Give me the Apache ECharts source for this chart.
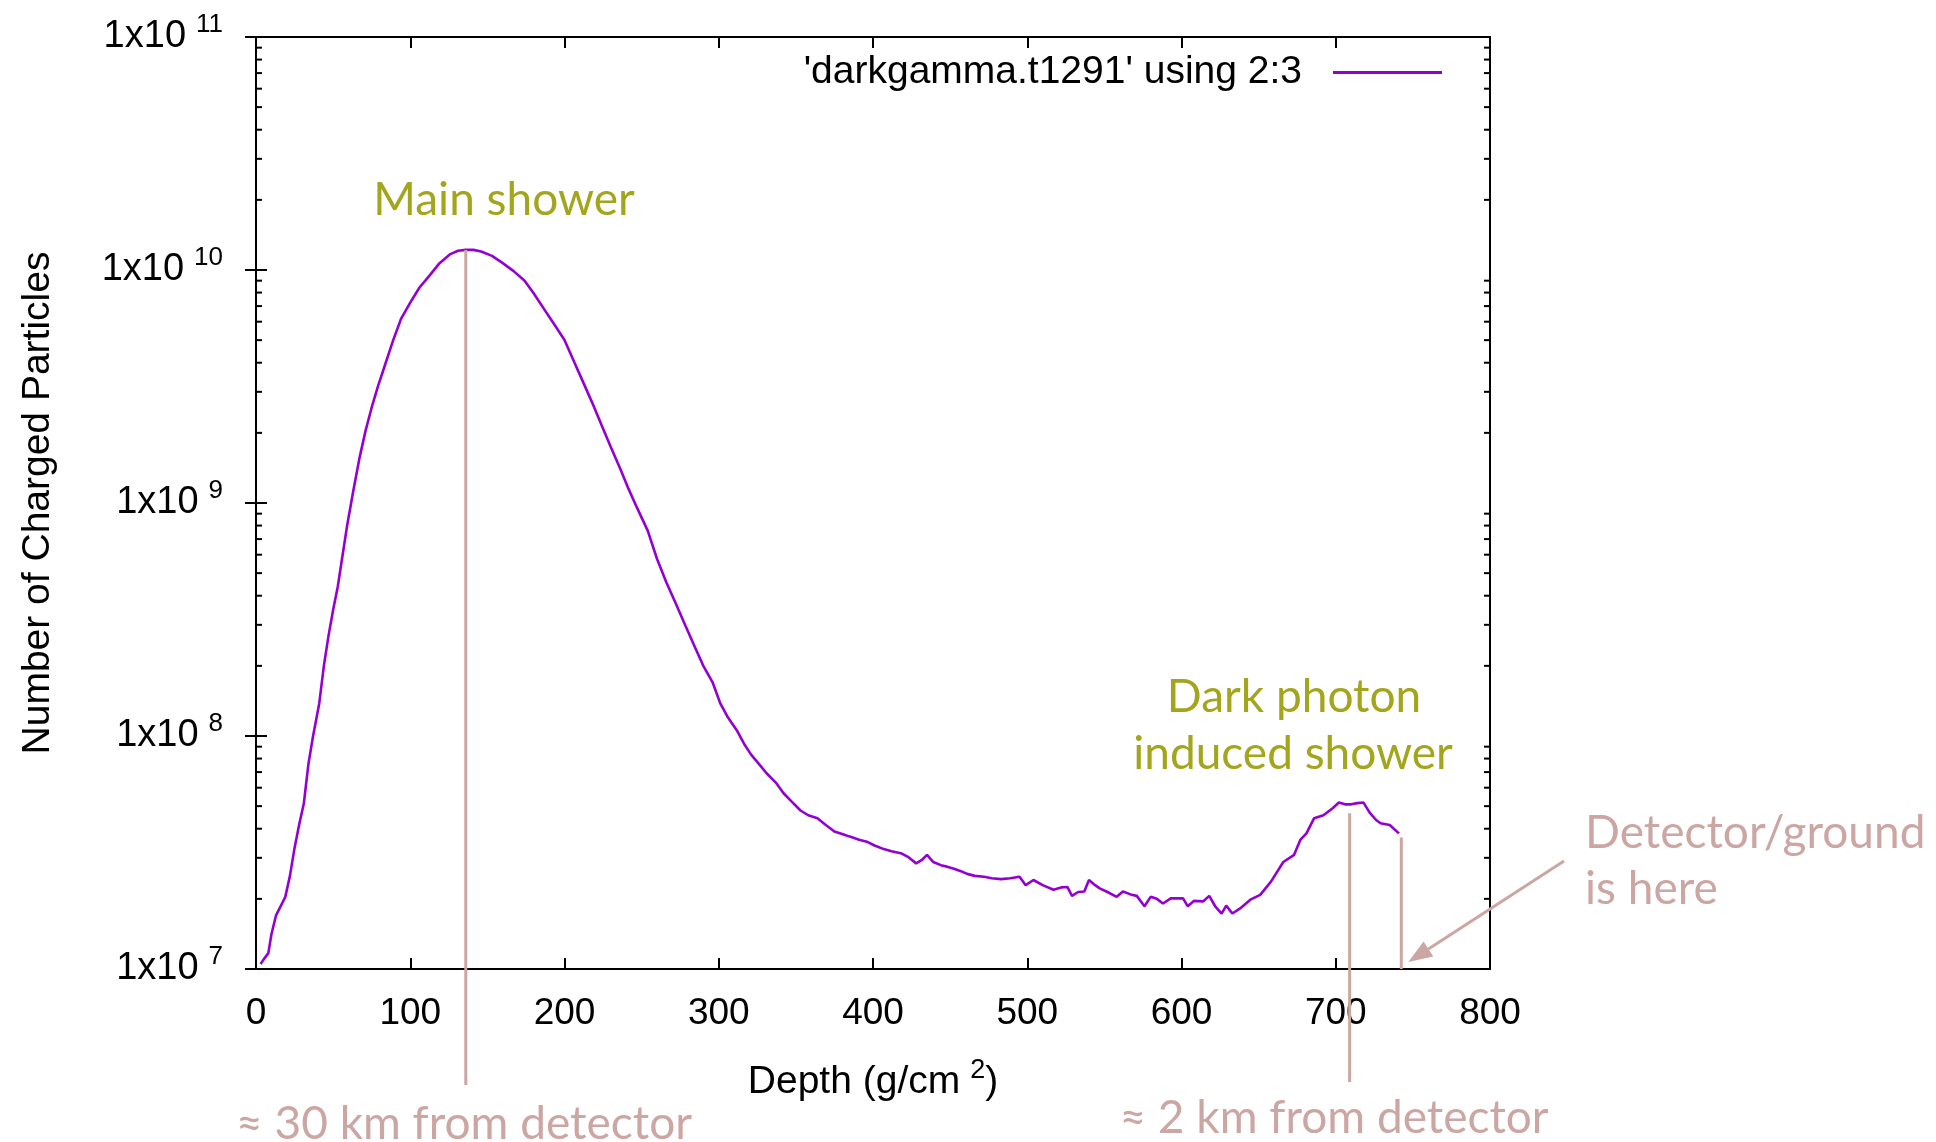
<!DOCTYPE html>
<html>
<head>
<meta charset="utf-8">
<title>darkgamma.t1291</title>
<script src="https://cdn.jsdelivr.net/npm/echarts@6/dist/echarts.min.js"></script>
<style>
  html, body { margin: 0; padding: 0; background: #fff; }
  #chart { width: 1936px; height: 1142px; }
</style>
</head>
<body>
<div id="chart"></div>
<script>
// depth (g/cm2)
var depth = [
  3, 5, 8, 10, 13, 16, 19, 22, 25, 28,
  31, 34, 37, 41, 44, 47, 50, 53, 56, 59,
  63, 67, 71, 75, 79, 84, 89, 94, 100, 106,
  113, 119, 126, 131, 136, 141, 146, 153, 160, 167,
  174, 180, 187, 193, 200, 206, 212, 218, 224, 230,
  236, 241, 247, 254, 260, 266, 272, 278, 284, 290,
  296, 301, 306, 312, 317, 321, 326, 331, 337, 342,
  347, 353, 358, 364, 369, 375, 380, 385, 391, 396,
  401, 407, 412, 418, 423, 428, 432, 435, 439, 444,
  448, 452, 457, 461, 466, 472, 477, 483, 489, 495,
  499, 504, 510, 517, 522, 526, 529, 533, 537, 540,
  544, 547, 552, 558, 562, 567, 571, 576, 580, 584,
  588, 593, 598, 601, 604, 608, 614, 618, 622, 626,
  629, 633, 638, 645, 651, 658, 666, 673, 677, 681,
  686, 692, 698, 702, 706, 710, 714, 718, 722, 726,
  729, 735, 738, 741
];
// number of charged particles at each depth
var particles = [
  1.05e7, 1.10e7, 1.17e7, 1.41e7, 1.70e7, 1.86e7, 2.04e7, 2.51e7, 3.31e7, 4.17e7,
  5.13e7, 7.59e7, 1.00e8, 1.38e8, 2.00e8, 2.69e8, 3.47e8, 4.37e8, 5.89e8, 7.94e8,
  1.12e9, 1.55e9, 2.04e9, 2.57e9, 3.16e9, 3.98e9, 5.01e9, 6.17e9, 7.24e9, 8.41e9,
  9.55e9, 1.07e10, 1.17e10, 1.21e10, 1.22e10, 1.22e10, 1.20e10, 1.15e10, 1.07e10, 9.89e9,
  9.02e9, 7.94e9, 6.76e9, 5.89e9, 5.01e9, 4.07e9, 3.31e9, 2.69e9, 2.16e9, 1.74e9,
  1.41e9, 1.17e9, 9.55e8, 7.59e8, 5.75e8, 4.57e8, 3.72e8, 3.02e8, 2.45e8, 2.00e8,
  1.70e8, 1.38e8, 1.20e8, 1.05e8, 9.12e7, 8.32e7, 7.59e7, 6.92e7, 6.31e7, 5.68e7,
  5.25e7, 4.79e7, 4.57e7, 4.44e7, 4.17e7, 3.89e7, 3.80e7, 3.70e7, 3.59e7, 3.52e7,
  3.39e7, 3.27e7, 3.20e7, 3.14e7, 3.02e7, 2.84e7, 2.95e7, 3.09e7, 2.88e7, 2.79e7,
  2.75e7, 2.70e7, 2.63e7, 2.56e7, 2.51e7, 2.49e7, 2.45e7, 2.43e7, 2.45e7, 2.49e7,
  2.29e7, 2.41e7, 2.29e7, 2.19e7, 2.24e7, 2.25e7, 2.06e7, 2.14e7, 2.15e7, 2.41e7,
  2.29e7, 2.22e7, 2.14e7, 2.04e7, 2.15e7, 2.09e7, 2.06e7, 1.86e7, 2.04e7, 2.00e7,
  1.91e7, 2.01e7, 2.01e7, 2.01e7, 1.86e7, 1.96e7, 1.95e7, 2.06e7, 1.85e7, 1.73e7,
  1.87e7, 1.73e7, 1.82e7, 1.99e7, 2.08e7, 2.37e7, 2.88e7, 3.09e7, 3.58e7, 3.82e7,
  4.44e7, 4.57e7, 4.90e7, 5.18e7, 5.09e7, 5.09e7, 5.15e7, 5.18e7, 4.69e7, 4.37e7,
  4.22e7, 4.15e7, 3.98e7, 3.82e7
];

var seriesName = "'darkgamma.t1291' using 2:3";

// log axis minor ticks (2..9 in each decade)
var decades = [1e7, 1e8, 1e9, 1e10];
var minorSteps = [2, 3, 4, 5, 6, 7, 8, 9];

// annotation markers: depth, top of the marker line, extra length below the axis (px)
var markerDepth = [136, 709, 742.5];
var markerTop = [1.22e10, 4.66e7, 3.67e7];
var markerBelow = [116, 113, 0];

var FONT = "Liberation Sans";
var ANN_FONT = "Lato";
var VIOLET = "#9400d3";
var OLIVE = "#a3a61c";
var ROSE = "#cca6a3";

var minorTicks = [];
decades.forEach(function (d) {
  minorSteps.forEach(function (m) {
    minorTicks.push([0, m * d]);
  });
});

var lineData = depth.map(function (x, i) {
  return [x, particles[i]];
});

var tickStyle = { inside: true, length: 11, lineStyle: { color: "#000", width: 2 } };

var supRich = {
  b: { fontFamily: FONT, fontSize: 38, lineHeight: 50, color: "#000" },
  s: { fontFamily: FONT, fontSize: 26, lineHeight: 26, verticalAlign: "top", padding: [0, 0, 0, 10], color: "#000" }
};

var chart = echarts.init(document.getElementById("chart"));
chart.setOption({
  animation: false,
  backgroundColor: "#fff",
  textStyle: { fontFamily: FONT },
  grid: {
    left: 256, right: 446, top: 37, bottom: 173,
    show: true, borderColor: "#000", borderWidth: 2, backgroundColor: "transparent"
  },
  legend: {
    data: [{ name: seriesName, icon: "rect" }],
    right: 494, top: 53, padding: 0,
    itemWidth: 109, itemHeight: 3,
    align: "right",
    selectedMode: false,
    itemStyle: { color: VIOLET },
    textStyle: { fontFamily: FONT, fontSize: 39, color: "#000", padding: [0, 26, 0, 0] }
  },
  xAxis: [
    {
      type: "value", min: 0, max: 800, interval: 100, position: "bottom",
      axisLine: { show: false },
      axisTick: tickStyle,
      splitLine: { show: false },
      axisLabel: { margin: 26, fontSize: 37, color: "#000", fontFamily: FONT, showMinLabel: true, showMaxLabel: true },
      name: "Depth (g/cm{s|2})",
      nameLocation: "middle",
      nameGap: 88,
      nameTextStyle: {
        fontFamily: FONT, fontSize: 39, lineHeight: 50, color: "#000",
        rich: { s: { fontFamily: FONT, fontSize: 27, lineHeight: 27, verticalAlign: "top", padding: [0, 0, 0, 10], color: "#000" } }
      }
    },
    {
      type: "value", min: 0, max: 800, interval: 100, position: "top",
      axisLine: { show: false },
      axisTick: tickStyle,
      axisLabel: { show: false },
      splitLine: { show: false }
    }
  ],
  yAxis: [
    {
      type: "log", logBase: 10, min: 1e7, max: 1e11, position: "left",
      axisLine: { show: false },
      axisTick: tickStyle,
      splitLine: { show: false },
      axisLabel: {
        margin: 33, showMinLabel: true, showMaxLabel: true,
        formatter: function (v) {
          return "{b|1x10}{s|" + Math.round(Math.log10(v)) + "}";
        },
        rich: supRich
      },
      name: "Number of Charged Particles",
      nameLocation: "middle",
      nameGap: 198,
      nameTextStyle: { fontFamily: FONT, fontSize: 39, color: "#000" }
    },
    {
      type: "log", logBase: 10, min: 1e7, max: 1e11, position: "right",
      axisLine: { show: false },
      axisTick: tickStyle,
      axisLabel: { show: false },
      splitLine: { show: false }
    }
  ],
  series: [
    {
      name: seriesName,
      type: "line",
      data: lineData,
      symbol: "none",
      showSymbol: false,
      lineStyle: { color: VIOLET, width: 2.6 },
      itemStyle: { color: VIOLET },
      z: 3
    },
    {
      name: "minor",
      type: "custom",
      silent: true,
      clip: false,
      data: minorTicks,
      renderItem: function (params, api) {
        var y = api.coord([0, api.value(1)])[1];
        var cs = params.coordSys;
        var st = { stroke: "#000", lineWidth: 2 };
        return {
          type: "group",
          children: [
            { type: "line", shape: { x1: cs.x, y1: y, x2: cs.x + 6, y2: y }, style: st },
            { type: "line", shape: { x1: cs.x + cs.width - 6, y1: y, x2: cs.x + cs.width, y2: y }, style: st }
          ]
        };
      }
    }
  ]
});

// annotations
function px(x, y) {
  return chart.convertToPixel({ seriesIndex: 0 }, [x, y]);
}
var axisBottom = px(0, 1e7)[1];
var graphics = [];
markerDepth.forEach(function (d, i) {
  var top = px(d, markerTop[i]);
  graphics.push({
    type: "line", z: 100, silent: true,
    shape: { x1: top[0], y1: top[1], x2: top[0], y2: axisBottom + markerBelow[i] },
    style: { stroke: ROSE, lineWidth: 3 }
  });
});

// arrow pointing at the ground marker
var tip = [px(markerDepth[2], 1e7)[0] + 7, axisBottom - 7];
var tail = [1564, 861];
var dx = tip[0] - tail[0], dy = tip[1] - tail[1];
var len = Math.sqrt(dx * dx + dy * dy);
var ux = dx / len, uy = dy / len;
var base = [tip[0] - 24 * ux, tip[1] - 24 * uy];
graphics.push({
  type: "line", z: 100, silent: true,
  shape: { x1: tail[0], y1: tail[1], x2: base[0], y2: base[1] },
  style: { stroke: ROSE, lineWidth: 3 }
});
graphics.push({
  type: "polygon", z: 100, silent: true,
  shape: { points: [tip, [base[0] - 9 * uy, base[1] + 9 * ux], [base[0] + 9 * uy, base[1] - 9 * ux]] },
  style: { fill: ROSE }
});

function note(text, x, y, color, align) {
  graphics.push({
    type: "text", z: 100, silent: true, x: x, y: y,
    style: {
      text: text, fill: color, fontFamily: ANN_FONT, fontSize: 46,
      align: align, textAlign: align, verticalAlign: "middle", textVerticalAlign: "middle"
    }
  });
}
note("Main shower", 504, 200, OLIVE, "center");
note("Dark photon", 1294, 697, OLIVE, "center");
note("induced shower", 1293, 754, OLIVE, "center");
note("Detector/ground", 1585, 833, ROSE, "left");
note("is here", 1585, 889, ROSE, "left");
note("\u2248 30 km from detector", 464, 1124, ROSE, "center");
note("\u2248 2 km from detector", 1334, 1118, ROSE, "center");

chart.setOption({ graphic: graphics });
</script>
</body>
</html>
